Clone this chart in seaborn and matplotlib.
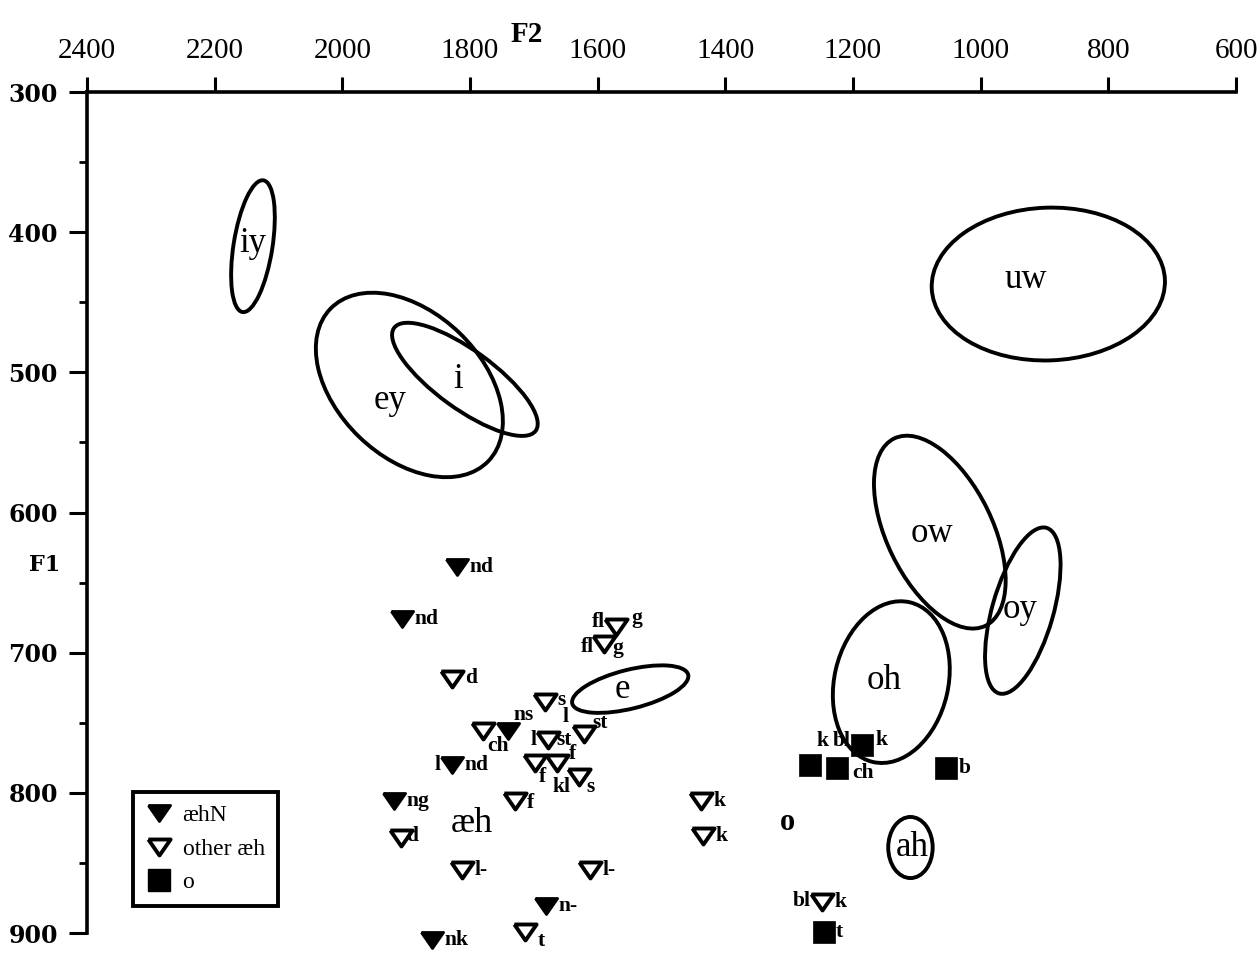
import matplotlib
matplotlib.use("Agg")
import matplotlib.pyplot as plt
import seaborn as sns
import numpy as np
from matplotlib.patches import Ellipse
from matplotlib.transforms import ScaledTranslation
from matplotlib.lines import Line2D

# ---------------------------------------------------------------- data
# Vowel class means (Hz) – drawn as ellipses with a centred label
vowels = ["iy", "ey", "i", "uw", "ow", "oy", "oh", "e", "ah"]
vowel_f2 = [2140, 1895, 1808, 894, 1064, 934, 1140, 1549, 1110]
vowel_f1 = [410, 509, 505, 437, 614, 670, 721, 726, 839]

# Category means shown as bare labels
mean_labels = ["æh", "o"]
mean_f2 = [1797, 1302]
mean_f1 = [822, 821]

# æh before nasals (filled triangles)
aehN_f2 = [1820, 1906, 1740, 1828, 1919, 1681, 1860]
aehN_f1 = [639, 676, 756, 780, 806, 881, 905]
aehN_pre = ["", "", "", "l", "", "", ""]
aehN_post = ["nd", "nd", "ns", "nd", "ng", "n-", "nk"]

# other æh tokens (open triangles)
aeh_f2 = [1828, 1682, 1780, 1678, 1621, 1698, 1664, 1629, 1730, 1908,
          1812, 1612, 1714, 1571, 1590, 1438, 1435, 1248]
aeh_f1 = [719, 735, 756, 762, 758, 779, 779, 789, 806, 832,
          855, 855, 899, 682, 694, 806, 831, 878]
aeh_pre = ["", "", "", "l", "l", "", "", "kl", "", "",
           "", "", "", "fl", "fl", "", "", "bl"]
aeh_post = ["d", "s", "ch", "st", "st", "f", "f", "s", "f", "d",
            "l-", "l-", "t", "g", "g", "k", "k", "k"]

# short-o tokens (filled squares)
o_f2 = [1267, 1225, 1186, 1054, 1245]
o_f1 = [780, 782, 766, 782, 899]
o_pre = ["", "", "bl", "", ""]
o_post = ["k", "ch", "k", "b", "t"]

f2_ticks = list(range(2400, 599, -200))
f1_ticks = list(range(300, 901, 100))

# ---------------------------------------------------------------- layout
# ellipse outlines: semi-major, semi-minor (points) and tilt (deg)
ell_a = [48, 79, 63, 84, 75, 62, 59, 43, 22]
ell_b = [14, 52, 21, 55, 38, 22, 41, 14, 16]
ell_ang = [81, -44, -36, 2, 116, 74, 77, 14, 90]
# label nudges for the vowel names (points)
vlab_dx = [0, -14, -5, -16, -6, -2, -5, -6, 1]
vlab_dy = [2, -11, 0, 3, -1, 1, 1, 0, 0]

# token-label offsets (points): (pre dx, pre dy), (post dx, post dy, ha)
aehN_pre_off = [None, None, None, (-8, 0), None, None, None]
aehN_post_off = [(9, 0, "left"), (9, 0, "left"), (11, 12, "center"),
                 (9, 0, "left"), (9, 0, "left"), (9, 0, "left"), (9, 0, "left")]
aeh_pre_off = [None, None, None, (-8, 0), (-11, 12), None, None, (-6, -7),
               None, None, None, None, None, (-8, 4), (-7, -2), None, None, (-8, 1)]
aeh_post_off = [(9, 1, "left"), (9, 1, "left"), (3, -11, "left"), (6, 0, "left"),
                (6, 8, "left"), (3, -10, "left"), (9, 7, "left"), (5, -7, "left"),
                (9, -1, "left"), (4, 1, "left"), (9, 0, "left"), (9, 0, "left"),
                (9, -7, "left"), (11, 7, "left"), (6, -3, "left"), (9, 0, "left"),
                (9, 0, "left"), (9, 0, "left")]
o_pre_off = [None, None, (-8, 3), None, None]
o_post_off = [(9, 17, "center"), (11, -4, "left"), (10, 4, "left"),
              (9, 0, "left"), (8, 0, "left")]

sns.set_style("ticks")
plt.rcParams["font.family"] = ["Liberation Serif", "DejaVu Serif"]
for key in ("text.color", "axes.labelcolor", "xtick.color", "ytick.color",
            "axes.edgecolor"):
    plt.rcParams[key] = "black"

fig = plt.figure(figsize=(12.58, 9.59), dpi=100)
ax = fig.add_axes([87 / 1258, 0, 1149 / 1258, 867 / 959])
ax.set_xlim(2400, 600)
ax.set_ylim(300 + 867 / 1.4017, 300)

# downward triangle, wider than tall
tri = [(-1, 0.72), (1, 0.72), (0, -0.72), (-1, 0.72)]
msize = 16

sns.scatterplot(x=aehN_f2, y=aehN_f1, ax=ax, marker=tri, s=msize ** 2,
                color="black", edgecolor="black", linewidth=2.0,
                legend=False, zorder=3, clip_on=False)
sns.scatterplot(x=aeh_f2, y=aeh_f1, ax=ax, marker=tri, s=msize ** 2,
                color="white", edgecolor="black", linewidth=2.8,
                legend=False, zorder=3, clip_on=False)
sns.scatterplot(x=o_f2, y=o_f1, ax=ax, marker="s", s=msize ** 2,
                color="black", edgecolor="black", linewidth=0.5,
                legend=False, zorder=3, clip_on=False)

tok_font = dict(fontsize=15.5, fontweight="bold", color="black")


def label_tokens(xs, ys, pres, posts, pre_off, post_off):
    for x, y, pre, post, po, qo in zip(xs, ys, pres, posts, pre_off, post_off):
        if pre:
            ax.annotate(pre, (x, y), xytext=po, textcoords="offset points",
                        ha="right", va="center", zorder=4,
                        annotation_clip=False, **tok_font)
        if post:
            ax.annotate(post, (x, y), xytext=qo[:2], textcoords="offset points",
                        ha=qo[2], va="center", zorder=4,
                        annotation_clip=False, **tok_font)


label_tokens(aehN_f2, aehN_f1, aehN_pre, aehN_post, aehN_pre_off, aehN_post_off)
label_tokens(aeh_f2, aeh_f1, aeh_pre, aeh_post, aeh_pre_off, aeh_post_off)
label_tokens(o_f2, o_f1, o_pre, o_post, o_pre_off, o_post_off)

# vowel ellipses
for name, f2, f1, a, b, ang, dx, dy in zip(vowels, vowel_f2, vowel_f1, ell_a,
                                           ell_b, ell_ang, vlab_dx, vlab_dy):
    trans = fig.dpi_scale_trans + ScaledTranslation(f2, f1, ax.transData)
    ax.add_patch(Ellipse((0, 0), 2 * a / 72, 2 * b / 72, angle=ang,
                         transform=trans, fill=False, edgecolor="black",
                         linewidth=2.8, zorder=2))
    ax.annotate(name, (f2, f1), xytext=(dx, dy), textcoords="offset points",
                ha="center", va="center", fontsize=25, zorder=4)

ax.annotate(mean_labels[0], (mean_f2[0], mean_f1[0]), ha="center",
            va="center", fontsize=26)
ax.annotate(mean_labels[1], (mean_f2[1], mean_f1[1]), ha="center",
            va="center", fontsize=22, fontweight="bold")

# axes: F2 across the top, F1 down the left
ax.xaxis.tick_top()
ax.set_xticks(f2_ticks)
ax.set_xticklabels([str(t) for t in f2_ticks], fontsize=21)
ax.set_yticks(f1_ticks)
ax.set_yticklabels([str(t) for t in f1_ticks], fontsize=17,
                   family="DejaVu Serif", fontweight="bold")
ax.set_yticks(list(range(350, 900, 100)), minor=True)
ax.tick_params(axis="x", which="major", direction="out", length=11, width=2.2,
               pad=9, top=True, bottom=False)
ax.tick_params(axis="y", which="major", direction="out", length=13, width=2.2,
               pad=8)
ax.tick_params(axis="y", which="minor", direction="out", length=6, width=2.0)
for side in ("right", "bottom"):
    ax.spines[side].set_visible(False)
ax.spines["top"].set_linewidth(2.6)
ax.spines["left"].set_linewidth(2.6)
ax.spines["left"].set_bounds(300, 900)

ax.xaxis.set_label_position("top")
ax.set_xlabel("F2", fontsize=21, fontweight="bold", va="center")
ax.xaxis.set_label_coords(0.383, 1.066)
ax.set_ylabel("F1", fontsize=16, fontweight="bold", family="DejaVu Serif",
              rotation=0, ha="center", va="center")
ax.yaxis.set_label_coords(-0.0366, 0.4544)

handles = [
    Line2D([], [], linestyle="none", marker=tri, markersize=msize,
           markerfacecolor="black", markeredgecolor="black", markeredgewidth=2.0),
    Line2D([], [], linestyle="none", marker=tri, markersize=msize,
           markerfacecolor="white", markeredgecolor="black", markeredgewidth=2.8),
    Line2D([], [], linestyle="none", marker="s", markersize=msize,
           markerfacecolor="black", markeredgecolor="black"),
]
leg = ax.legend(handles, ["æhN", "other æh", "o"], loc="lower left",
                bbox_to_anchor=(0.040, 0.061), borderaxespad=0, fontsize=17,
                frameon=True, fancybox=False, edgecolor="black", framealpha=1,
                handlelength=1.1, handletextpad=0.45, labelspacing=0.5,
                borderpad=0.55)
leg.get_frame().set_linewidth(2.8)
leg.get_frame().set_edgecolor("black")

fig.savefig("out.png", dpi=100)
